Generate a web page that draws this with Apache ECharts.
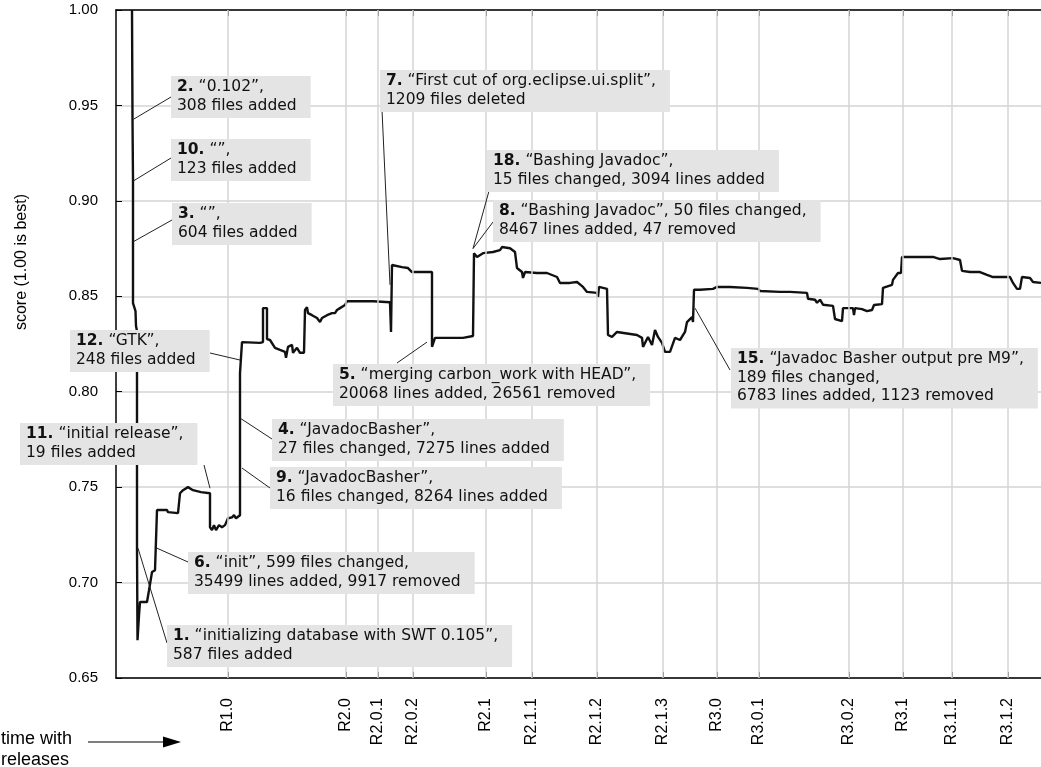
<!DOCTYPE html>
<html>
<head>
<meta charset="utf-8">
<script src="https://cdn.jsdelivr.net/npm/echarts@6/dist/echarts.min.js"></script>
<style>
html,body{margin:0;padding:0;background:#fff}
#main{width:1041px;height:767px}
</style>
</head>
<body>
<div id="main"></div>
<script>
// release markers on the time axis
var releaseNames = ['R1.0','R2.0','R2.0.1','R2.0.2','R2.1','R2.1.1','R2.1.2','R2.1.3','R3.0','R3.0.1','R3.0.2','R3.1','R3.1.1','R3.1.2'];
var releaseTimes = [112, 230, 262, 297, 370, 416, 481, 547, 601, 643, 733, 787, 836, 892];

// [time, score] vertices of the score curve
var scoreSteps = [
  [16,1.000],[16.5,0.9427],[17,0.9109],[17,0.8786],[17,0.8464],[19,0.8464],[19.5,0.8422],[20,0.8344],
  [21,0.8318],[21,0.7180],[21.5,0.6698],[23,0.6829],[24,0.6898],[31,0.6898],[33,0.6960],[36,0.7055],[39,0.7065],
  [41,0.7380],[51,0.7380],[52,0.7369],[62,0.7364],[64,0.7468],[67,0.7484],[72,0.7500],[74,0.7494],
  [77,0.7484],[85,0.7474],[94,0.7468],[94,0.7290],[96,0.7275],[98,0.7301],[100,0.7275],[103,0.7301],
  [106,0.7290],[109,0.7301],[112,0.7337],[116,0.7342],[118,0.7353],[120,0.7337],[124,0.7353],[124,0.8097],
  [126,0.8097],[126,0.8260],[144,0.8256],[147,0.8260],[147,0.8438],[151,0.8438],[151,0.8276],[154,0.8271],
  [159,0.8230],[164,0.8219],[169,0.8209],[170,0.8178],[172,0.8235],[176,0.8245],[177,0.8204],[181,0.8230],
  [184,0.8204],[188,0.8204],[189,0.8428],[191,0.8443],[192,0.8412],[196,0.8401],[201,0.8386],[204,0.8365],
  [206,0.8386],[211,0.8401],[216,0.8412],[219,0.8412],[221,0.8428],[224,0.8438],[229,0.8454],[231,0.8474],
  [257,0.8474],[274,0.8469],[275,0.8313],[276,0.8664],[286,0.8653],[292,0.8648],[296,0.8627],[316,0.8627],
  [316,0.8235],[319,0.8282],[347,0.8282],[357,0.8292],[358,0.8726],[361,0.8706],[367,0.8726],[377,0.8732],
  [384,0.8742],[386,0.8758],[394,0.8752],[399,0.8732],[401,0.8648],[406,0.8627],[407,0.8596],[409,0.8627],
  [421,0.8622],[431,0.8622],[441,0.8601],[444,0.8570],[454,0.8570],[461,0.8575],[467,0.8549],[471,0.8523],
  [481,0.8518],[482,0.8497],[483,0.8549],[491,0.8539],[492,0.8297],[496,0.8287],[501,0.8313],[521,0.8297],
  [526,0.8282],[527,0.8235],[532,0.8287],[536,0.8245],[539,0.8323],[542,0.8287],[546,0.8256],[549,0.8209],
  [554,0.8209],[559,0.8282],[564,0.8271],[569,0.8313],[571,0.8365],[576,0.8391],[577,0.8365],[578,0.8534],
  [584,0.8534],[597,0.8539],[601,0.8549],[614,0.8549],[631,0.8544],[642,0.8539],[644,0.8528],[664,0.8523],
  [674,0.8523],[691,0.8518],[692,0.8487],[699,0.8482],[701,0.8466],[704,0.8482],[707,0.8456],[717,0.8450],
  [719,0.8381],[726,0.8370],[727,0.8438],[737,0.8438],[738,0.8401],[739,0.8438],[746,0.8433],[751,0.8422],
  [756,0.8428],[758,0.8454],[766,0.8459],[767,0.8544],[776,0.8560],[777,0.8586],[782,0.8622],[785,0.8622],
  [786,0.8706],[801,0.8706],[817,0.8706],[824,0.8695],[837,0.8700],[844,0.8690],[846,0.8633],[854,0.8627],
  [864,0.8627],[871,0.8612],[877,0.8601],[894,0.8601],[897,0.8570],[901,0.8539],[904,0.8539],[906,0.8601],
  [914,0.8596],[917,0.8575],[925,0.8570]
];

// annotated commits
var annNum    = ['1.','2.','3.','4.','5.','6.','7.','8.','9.','10.','11.','12.','15.','18.'];
var annTitle  = ['“initializing database with SWT 0.105”,','“0.102”,','“”,','“JavadocBasher”,',
                 '“merging carbon_work with HEAD”,','“init”, 599 files changed,','“First cut of org.eclipse.ui.split”,',
                 '“Bashing Javadoc”, 50 files changed,','“JavadocBasher”,','“”,','“initial release”,','“GTK”,',
                 '“Javadoc Basher output pre M9”,','“Bashing Javadoc”,'];
var annDetail = ['587 files added','308 files added','604 files added','27 files changed, 7275 lines added',
                 '20068 lines added, 26561 removed','35499 lines added, 9917 removed','1209 files deleted',
                 '8467 lines added, 47 removed','16 files changed, 8264 lines added','123 files added',
                 '19 files added','248 files added','189 files changed,\n6783 lines added, 1123 removed',
                 '15 files changed, 3094 lines added'];
var annTime   = [22, 17.3, 17.3, 124, 311, 41, 274, 357, 126, 17.3, 94, 124, 579, 357];
var annScore  = [0.7180, 0.9427, 0.8786, 0.7862, 0.8260, 0.7180, 0.8560, 0.8750, 0.7600, 0.9104, 0.7494, 0.8166, 0.8438, 0.8750];

// label box layout (page pixels): top-left of box, start of leader line
var annBox  = [[167,625],[171,76],[172,203],[272,419],[333,364],[188,552],[380,70],[493,200],[270,467],[171,139],[20,423],[70,330],[731,348],[487,150]];
var annFrom = [[167,643],[171,97],[172,220],[272,439],[397,363],[188,562],[382,110],[493,222],[270,488],[171,158],[204,465],[210,353],[730,370],[489,191]];

var boxFont = 'DejaVu Sans';
var boxSize = 15.5;

var myChart = echarts.init(document.getElementById('main'));

function renderNote(params, api) {
  var i = api.value(2);
  var p = api.coord([api.value(0), api.value(1)]);
  return {
    type: 'group',
    children: [{
      type: 'line',
      shape: {x1: annFrom[i][0], y1: annFrom[i][1], x2: p[0], y2: p[1]},
      style: {stroke: '#222', lineWidth: 1}
    }, {
      type: 'text',
      x: annBox[i][0],
      y: annBox[i][1],
      style: {
        text: '{b|' + annNum[i] + '} ' + annTitle[i] + '\n' + annDetail[i],
        rich: {b: {fontWeight: 'bold', fontFamily: boxFont, fontSize: boxSize, lineHeight: 18.5, fill: '#111'}},
        fontFamily: boxFont,
        fontSize: boxSize,
        lineHeight: 18.5,
        fill: '#111',
        backgroundColor: '#e4e4e4',
        padding: [2, 14, 3, 6],
        align: 'left',
        verticalAlign: 'top'
      }
    }]
  };
}

var option = {
  animation: false,
  grid: {left: 116, right: 0, top: 10, bottom: 89},
  xAxis: [{
    type: 'value', min: 0, max: 925,
    axisLine: {lineStyle: {color: '#000', width: 1.5}},
    axisTick: {inside: true, length: 6, customValues: releaseTimes, lineStyle: {color: '#000'}},
    axisLabel: {
      customValues: releaseTimes,
      rotate: 90,
      margin: 20,
      fontFamily: 'Liberation Sans',
      fontSize: 16,
      color: '#000',
      formatter: function (v) {
        var k = releaseTimes.indexOf(v);
        return k < 0 ? '' : releaseNames[k];
      }
    },
    splitLine: {show: false}
  }, {
    type: 'value', min: 0, max: 925, position: 'top',
    axisLine: {lineStyle: {color: '#000', width: 1.5}},
    axisTick: {inside: true, length: 6, customValues: releaseTimes, lineStyle: {color: '#000'}},
    axisLabel: {show: false},
    splitLine: {show: false}
  }],
  yAxis: {
    type: 'value', min: 0.65, max: 1.0, interval: 0.05,
    axisLine: {show: true, lineStyle: {color: '#000', width: 1.5}},
    axisTick: {show: true, inside: true, length: 6, lineStyle: {color: '#000'}},
    axisLabel: {
      margin: 18, fontFamily: 'Liberation Sans', fontSize: 15, color: '#000',
      formatter: function (v) { return v.toFixed(2); }
    },
    splitLine: {lineStyle: {color: '#d4d4d4', width: 1.5}}
  },
  graphic: [{
    type: 'text', x: 22, y: 262, rotation: Math.PI / 2,
    style: {text: 'score (1.00 is best)', fontFamily: 'Liberation Sans', fontSize: 16, fill: '#000', align: 'center', verticalAlign: 'middle'}
  }, {
    type: 'text', x: 1, y: 729,
    style: {text: 'time with\nreleases', fontFamily: 'Liberation Sans', fontSize: 18, lineHeight: 21, fill: '#000', align: 'left', verticalAlign: 'top'}
  }, {
    type: 'line', shape: {x1: 88, y1: 742, x2: 168, y2: 742}, style: {stroke: '#000', lineWidth: 1.2}
  }, {
    type: 'polygon', shape: {points: [[163, 736.5], [181, 742], [163, 747.5]]}, style: {fill: '#000'}
  }],
  series: [{
    name: 'releases',
    type: 'line',
    data: [],
    z: 1,
    silent: true,
    markLine: {
      silent: true,
      symbol: ['none', 'none'],
      label: {show: false},
      lineStyle: {color: '#d4d4d4', width: 1.5, type: 'solid'},
      data: releaseTimes.map(function (t) { return {xAxis: t}; })
    }
  }, {
    name: 'score',
    type: 'line',
    data: scoreSteps,
    z: 3,
    showSymbol: false,
    lineStyle: {color: '#111', width: 2.4},
    clip: true
  }, {
    name: 'notes',
    type: 'custom',
    z: 5,
    renderItem: renderNote,
    data: annNum.map(function (n, i) { return [annTime[i], annScore[i], i]; })
  }]
};

myChart.setOption(option);
</script>
</body>
</html>
